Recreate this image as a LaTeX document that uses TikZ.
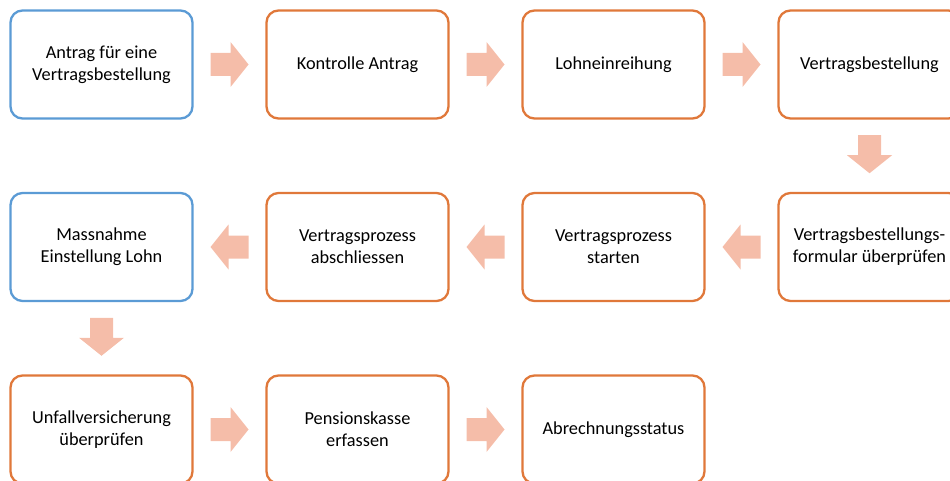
\documentclass[tikz,border=0pt]{standalone}
\usepackage{fontspec}
\setmainfont{Carlito}
\usetikzlibrary{calc}
\definecolor{bluebd}{HTML}{5B9BD5}
\definecolor{orangebd}{HTML}{E0783A}
\definecolor{arrowfill}{HTML}{F5BDA9}
\tikzset{
  stepbox/.style={draw, line width=2.3pt, rounded corners=12pt, fill=white,
    minimum width=182pt, minimum height=108pt, align=center,
    font=\fontsize{18.3}{22}\selectfont, text=black},
  bluebox/.style={stepbox, draw=bluebd},
  orangebox/.style={stepbox, draw=orangebd},
  blockarrow/.pic={
    \fill[arrowfill] (-19,-11.5) -- (1,-11.5) -- (1,-22.5) -- (19,0)
      -- (1,22.5) -- (1,11.5) -- (-19,11.5) -- cycle;
  }
}
\begin{document}
\begin{tikzpicture}[x=1pt, y=-1pt]
\useasboundingbox (0,0) rectangle (950,481);
\clip (0,0) rectangle (950,481);
% row 1
\node[bluebox]   (a1) at (101.5,64.5) {Antrag für eine\\Vertragsbestellung};
\node[orangebox] (a2) at (357.5,64.5) {Kontrolle Antrag};
\node[orangebox] (a3) at (613.5,64.5) {Lohneinreihung};
\node[orangebox] (a4) at (869.5,64.5) {Vertragsbestellung};
% row 2
\node[orangebox] (b4) at (869.5,247) {Vertragsbestellungs-\\formular überprüfen};
\node[orangebox] (b3) at (613.5,247) {Vertragsprozess\\starten};
\node[orangebox] (b2) at (357.5,247) {Vertragsprozess\\abschliessen};
\node[bluebox]   (b1) at (101.5,247) {Massnahme\\Einstellung Lohn};
% row 3
\node[orangebox] (c1) at (101.5,429.5) {Unfallversicherung\\überprüfen};
\node[orangebox] (c2) at (357.5,429.5) {Pensionskasse\\erfassen};
\node[orangebox] (c3) at (613.5,429.5) {Abrechnungsstatus};
% flow arrows between the steps
\pic at ($(a1.east)!0.5!(a2.west)$) {blockarrow};
\pic at ($(a2.east)!0.5!(a3.west)$) {blockarrow};
\pic at ($(a3.east)!0.5!(a4.west)$) {blockarrow};
\pic[rotate=-90] at ($(a4.south)!0.5!(b4.north)+(0,-1.5)$) {blockarrow};
\pic[rotate=180] at ($(b4.west)!0.5!(b3.east)$) {blockarrow};
\pic[rotate=180] at ($(b3.west)!0.5!(b2.east)$) {blockarrow};
\pic[rotate=180] at ($(b2.west)!0.5!(b1.east)$) {blockarrow};
\pic[rotate=-90] at ($(b1.south)!0.5!(c1.north)+(0,-1.5)$) {blockarrow};
\pic at ($(c1.east)!0.5!(c2.west)$) {blockarrow};
\pic at ($(c2.east)!0.5!(c3.west)$) {blockarrow};
\end{tikzpicture}
\end{document}
